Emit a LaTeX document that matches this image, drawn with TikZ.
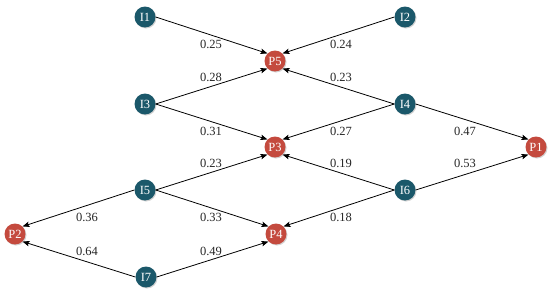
\documentclass[tikz,border=0pt]{standalone}
\usepackage{fontspec}
\setmainfont{Liberation Serif}
\usetikzlibrary{arrows.meta,shadows}
\definecolor{tealnode}{RGB}{27,88,106}
\definecolor{rednode}{RGB}{196,74,62}
\tikzset{
  base/.style={circle,minimum size=21pt,inner sep=0pt,text=white,font=\fontsize{12.5}{14}\selectfont,
    drop shadow={shadow xshift=1pt,shadow yshift=-1pt,opacity=0.35}},
  inode/.style={base,fill=tealnode},
  pnode/.style={base,fill=rednode},
  conn/.style={draw=black,line width=0.8pt,-{Stealth[length=7pt,width=5.5pt,inset=1.5pt]}},
  wlabel/.style={font=\fontsize{12.5}{14}\selectfont,text=black!85,inner sep=0pt}
}
\begin{document}
\begin{tikzpicture}[x=1pt,y=-1pt]
\useasboundingbox (0,0) rectangle (550,292);
\node[inode] (I1) at (145,17) {I1};
\node[inode] (I2) at (405,17) {I2};
\node[pnode] (P5) at (275,61) {P5};
\node[inode] (I3) at (145,104) {I3};
\node[inode] (I4) at (405,104) {I4};
\node[pnode] (P3) at (275,147) {P3};
\node[pnode] (P1) at (536,147) {P1};
\node[inode] (I5) at (145,190) {I5};
\node[inode] (I6) at (405,190) {I6};
\node[pnode] (P2) at (15,234) {P2};
\node[pnode] (P4) at (276,234) {P4};
\node[inode] (I7) at (146,277) {I7};

\draw[conn] (I1.east) -- (P5.north west);
\draw[conn] (I2.west) -- (P5.north east);
\draw[conn] (I3.east) -- (P5.south west);
\draw[conn] (I4.west) -- (P5.south east);
\draw[conn] (I3.east) -- (P3.north west);
\draw[conn] (I4.west) -- (P3.north east);
\draw[conn] (I5.east) -- (P3.south west);
\draw[conn] (I6.west) -- (P3.south east);
\draw[conn] (I4.east) -- (P1.north west);
\draw[conn] (I6.east) -- (P1.south west);
\draw[conn] (I5.west) -- (P2.north east);
\draw[conn] (I7.west) -- (P2.south east);
\draw[conn] (I5.east) -- (P4.north west);
\draw[conn] (I7.east) -- (P4.south west);
\draw[conn] (I6.west) -- (P4.north east);

\node[wlabel] (l1) at (211,44) {0.25};
\node[wlabel] (l2) at (341,44) {0.24};
\node[wlabel] (l3) at (211,77) {0.28};
\node[wlabel] (l4) at (341,77) {0.23};
\node[wlabel] (l5) at (211,131) {0.31};
\node[wlabel] (l6) at (341,131) {0.27};
\node[wlabel] (l7) at (465,131) {0.47};
\node[wlabel] (l8) at (211,163) {0.23};
\node[wlabel] (l9) at (341,163) {0.19};
\node[wlabel] (l10) at (465,163) {0.53};
\node[wlabel] (l11) at (87,217) {0.36};
\node[wlabel] (l12) at (211,217) {0.33};
\node[wlabel] (l13) at (341,217) {0.18};
\node[wlabel] (l14) at (87,251) {0.64};
\node[wlabel] (l15) at (211,251) {0.49};
\end{tikzpicture}
\end{document}
